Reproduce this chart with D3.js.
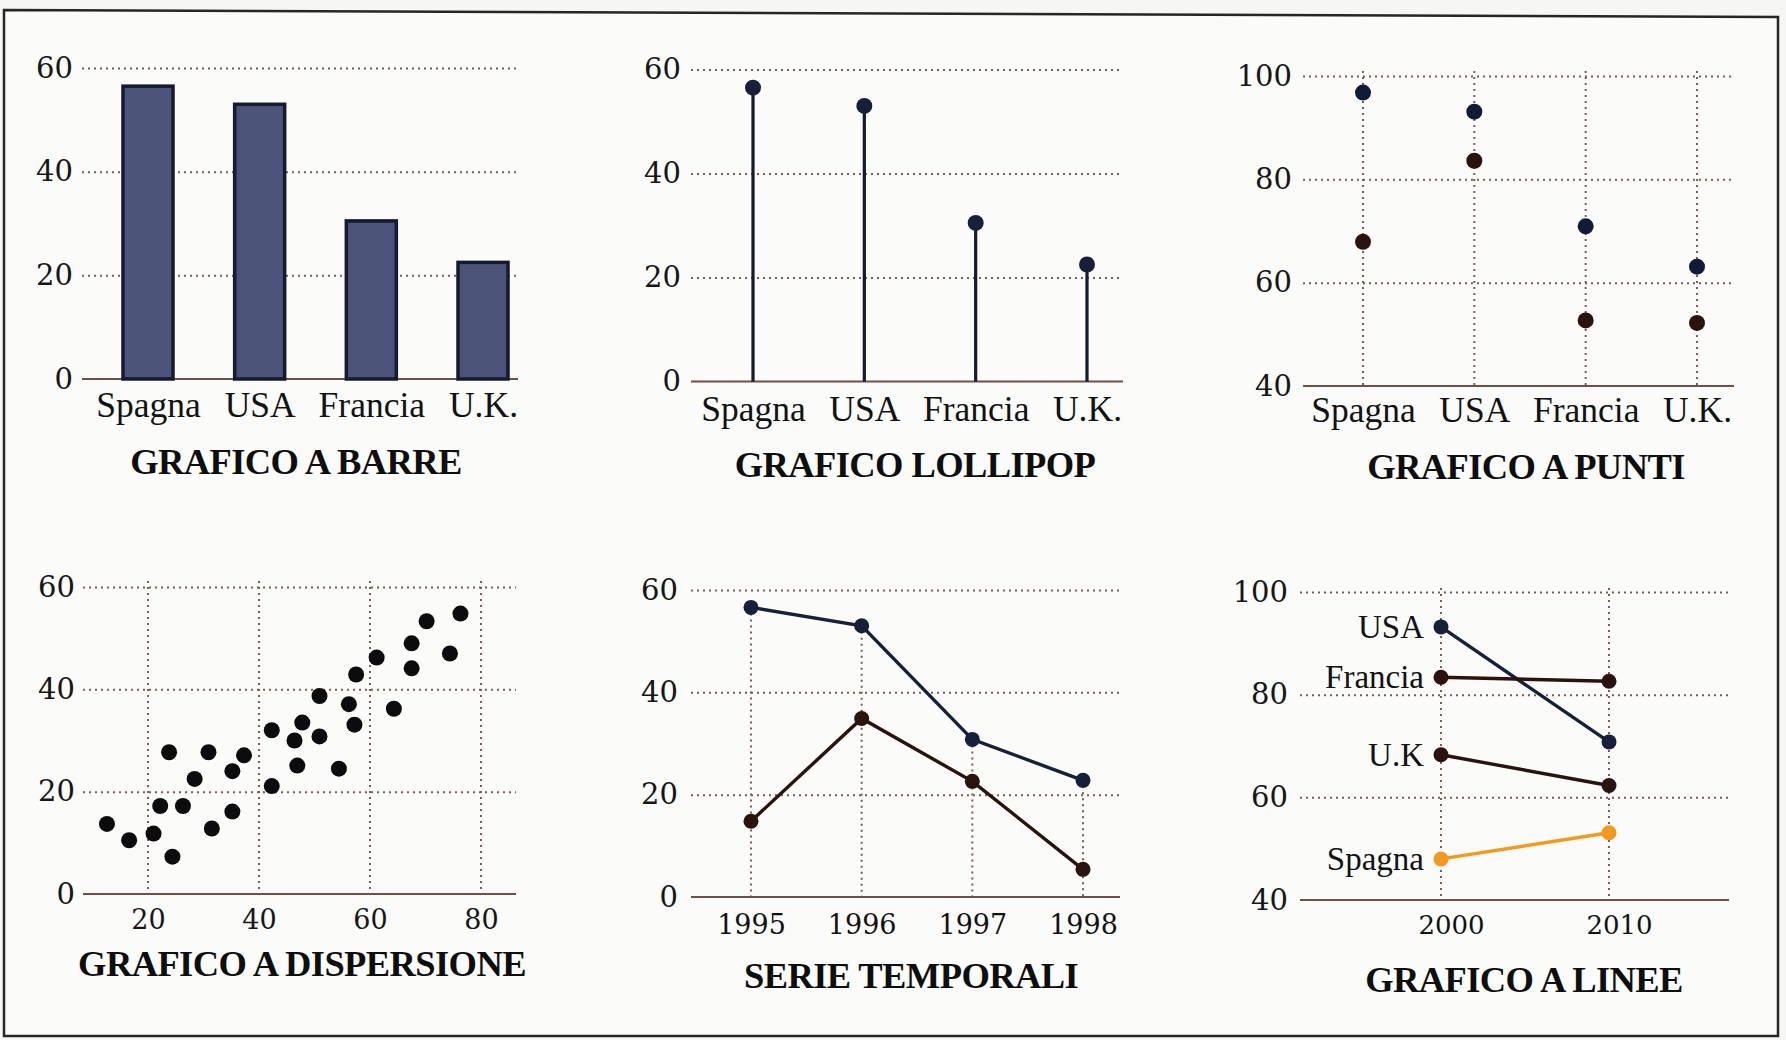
<!DOCTYPE html>
<html>
<head>
<meta charset="utf-8">
<script src="https://cdn.jsdelivr.net/npm/d3@7"></script>
<style>
  body { margin: 0; background: #f6f6f4; }
  svg { display: block; }
</style>
</head>
<body>
<div id="chart"></div>
<script>
// Data
const countries = ["Spagna", "USA", "Francia", "U.K."];
const barValues = [56.5, 53, 30.5, 22.5];
const dotSeriesA = [96.8, 93.1, 70.9, 63.1];
const dotSeriesB = [67.9, 83.6, 52.7, 52.2];

const scatterX = [12.6, 16.6, 21.0, 22.2, 23.8, 24.4, 26.3, 28.4, 30.9, 31.5, 35.2, 35.2, 37.3, 42.3, 42.3, 46.4,
  46.9, 47.8, 50.9, 50.9, 54.4, 56.2, 57.2, 57.5, 61.2, 64.3, 67.5, 67.5, 70.2, 74.4, 76.3];
const scatterY = [13.7, 10.5, 11.8, 17.2, 27.7, 7.3, 17.2, 22.5, 27.7, 12.8, 24.0, 16.1, 27.1, 32.0, 21.1, 30.0,
  25.1, 33.5, 38.7, 30.8, 24.5, 37.1, 33.1, 42.9, 46.2, 36.2, 49.0, 44.1, 53.3, 47.0, 54.8];

const years = [1995, 1996, 1997, 1998];
const tsSeriesA = [56.6, 53.0, 30.8, 22.8];
const tsSeriesB = [14.8, 34.9, 22.6, 5.4];

const lineYears = [2000, 2010];
const lineNames = ["USA", "Francia", "U.K", "Spagna"];
const lineUSA = [93.2, 70.8];
const lineFrancia = [83.4, 82.6];
const lineUK = [68.3, 62.3];
const lineSpagna = [48.0, 53.1];

const ticks60 = [0, 20, 40, 60];
const ticks100 = [40, 60, 80, 100];
const scatterTicks = [20, 40, 60, 80];

const titles = ["GRAFICO A BARRE", "GRAFICO LOLLIPOP", "GRAFICO A PUNTI",
  "GRAFICO A DISPERSIONE", "SERIE TEMPORALI", "GRAFICO A LINEE"];

// colours
const navy = "#16203a";
const brown = "#2a120e";
const orange = "#f29a20";
const gridColor = "#7a5e54";

const serif = "'Liberation Serif', 'Times New Roman', serif";
const numFont = "'DejaVu Serif', serif";

const W = 1786, H = 1040;
const svg = d3.select("#chart").append("svg")
    .attr("width", W)
    .attr("height", H);

svg.append("rect").attr("width", W).attr("height", H).attr("fill", "#f6f6f4");

// page frame
svg.append("path")
    .attr("d", "M4,10 L1778,17 L1778,1036 L4,1036 Z")
    .attr("fill", "#fbfbfa")
    .attr("stroke", "#262626")
    .attr("stroke-width", 2.5);

// horizontal grid + y labels + solid baseline, returns the y scale
function yPanel(cfg) {
    const y = d3.scaleLinear().domain(cfg.domain).range(cfg.range);
    const g = svg.append("g")
        .attr("transform", `translate(${cfg.x0},0)`)
        .call(d3.axisLeft(y)
            .tickValues(cfg.ticks)
            .tickSize(-(cfg.x1 - cfg.x0))
            .tickPadding(cfg.x0 - cfg.labelRight)
            .tickFormat(d3.format("d")));
    g.select(".domain").remove();
    g.selectAll(".tick line")
        .attr("stroke", gridColor)
        .attr("stroke-width", 2)
        .attr("stroke-dasharray", "2,4");
    g.selectAll(".tick").filter(d => d === cfg.domain[0]).select("line").remove();
    g.selectAll(".tick text")
        .style("font-family", numFont)
        .style("font-size", "29px")
        .attr("fill", "#161616");
    svg.append("line")
        .attr("x1", cfg.x0).attr("x2", cfg.x1)
        .attr("y1", y(cfg.domain[0])).attr("y2", y(cfg.domain[0]))
        .attr("stroke", "#6e5048")
        .attr("stroke-width", 2.2);
    return y;
}

function vGrid(xs, yTop, yBottom) {
    svg.append("g").selectAll("line")
        .data(xs)
        .join("line")
        .attr("x1", d => d).attr("x2", d => d)
        .attr("y1", (d, i) => typeof yTop === "function" ? yTop(i) : yTop)
        .attr("y2", yBottom)
        .attr("stroke", gridColor)
        .attr("stroke-width", 2)
        .attr("stroke-dasharray", "2,4");
}

function categoryAxis(x, yPos, pad, font, size) {
    const g = svg.append("g")
        .attr("transform", `translate(0,${yPos})`)
        .call(d3.axisBottom(x).tickSize(0).tickPadding(pad));
    g.select(".domain").remove();
    g.selectAll(".tick text")
        .style("font-family", font)
        .style("font-size", size + "px")
        .attr("fill", "#121212");
    return g;
}

function title(text, cx, by) {
    svg.append("text")
        .attr("x", cx).attr("y", by)
        .attr("text-anchor", "middle")
        .style("font-family", serif)
        .style("font-weight", 700)
        .style("font-size", "36.5px")
        .style("letter-spacing", "-0.6px")
        .attr("fill", "#0e0e0e")
        .text(text);
}

// ---------- 1. GRAFICO A BARRE ----------
{
    const y = yPanel({ domain: [0, 60], range: [379, 68], x0: 82, x1: 518, labelRight: 73, ticks: ticks60 });
    const x = d3.scalePoint().domain(countries).range([148, 483]);
    const bw = 50;
    svg.append("g").selectAll("rect")
        .data(barValues)
        .join("rect")
        .attr("x", (d, i) => x(countries[i]) - bw / 2)
        .attr("width", bw)
        .attr("y", d => y(d))
        .attr("height", d => y(0) - y(d))
        .attr("fill", "#4b5478")
        .attr("stroke", "#141a30")
        .attr("stroke-width", 3.5);
    categoryAxis(x, y(0), 13, serif, 35.5);
    title(titles[0], 296, 474);
}

// ---------- 2. GRAFICO LOLLIPOP ----------
{
    const y = yPanel({ domain: [0, 60], range: [381.5, 69.5], x0: 691, x1: 1123, labelRight: 681, ticks: ticks60 });
    const x = d3.scalePoint().domain(countries).range([753, 1087]);
    const g = svg.append("g");
    g.selectAll("line")
        .data(barValues)
        .join("line")
        .attr("x1", (d, i) => x(countries[i])).attr("x2", (d, i) => x(countries[i]))
        .attr("y1", y(0)).attr("y2", d => y(d))
        .attr("stroke", "#141a30")
        .attr("stroke-width", 3.2);
    g.selectAll("circle")
        .data(barValues)
        .join("circle")
        .attr("cx", (d, i) => x(countries[i]))
        .attr("cy", d => y(d))
        .attr("r", 8)
        .attr("fill", navy);
    categoryAxis(x, y(0), 14, serif, 35.5);
    title(titles[1], 915, 477);
}

// ---------- 3. GRAFICO A PUNTI ----------
{
    const x = d3.scalePoint().domain(countries).range([1363, 1697]);
    vGrid(countries.map(c => x(c)), 71, 386);
    const y = yPanel({ domain: [40, 100], range: [386, 76], x0: 1303, x1: 1734, labelRight: 1292, ticks: ticks100 });
    const g = svg.append("g");
    g.selectAll(".a")
        .data(dotSeriesA)
        .join("circle")
        .attr("class", "a")
        .attr("cx", (d, i) => x(countries[i]))
        .attr("cy", d => y(d))
        .attr("r", 8)
        .attr("fill", "#121a3a");
    g.selectAll(".b")
        .data(dotSeriesB)
        .join("circle")
        .attr("class", "b")
        .attr("cx", (d, i) => x(countries[i]))
        .attr("cy", d => y(d))
        .attr("r", 8)
        .attr("fill", brown);
    categoryAxis(x, y(40), 11, serif, 35.5);
    title(titles[2], 1526, 479);
}

// ---------- 4. GRAFICO A DISPERSIONE ----------
{
    const x = d3.scaleLinear().domain([20, 80]).range([148, 481]);
    vGrid(scatterTicks.map(t => x(t)), 581, 894);
    const y = yPanel({ domain: [0, 60], range: [894, 587], x0: 83, x1: 516, labelRight: 75, ticks: ticks60 });
    svg.append("g").selectAll("circle")
        .data(scatterX)
        .join("circle")
        .attr("cx", d => x(d))
        .attr("cy", (d, i) => y(scatterY[i]))
        .attr("r", 8)
        .attr("fill", "#0c0c0e");
    const ax = svg.append("g")
        .attr("transform", `translate(0,${y(0)})`)
        .call(d3.axisBottom(x).tickValues(scatterTicks).tickSize(0).tickPadding(16).tickFormat(d3.format("d")));
    ax.select(".domain").remove();
    ax.selectAll(".tick text")
        .style("font-family", numFont)
        .style("font-size", "27px")
        .attr("fill", "#161616");
    title(titles[3], 302, 976);
}

// ---------- 5. SERIE TEMPORALI ----------
{
    const x = d3.scalePoint().domain(years).range([751, 1083]);
    const yTmp = d3.scaleLinear().domain([0, 60]).range([897, 590]);
    vGrid(years.map(d => x(d)), i => yTmp(Math.max(tsSeriesA[i], tsSeriesB[i])), 897);
    const y = yPanel({ domain: [0, 60], range: [897, 590], x0: 691, x1: 1120, labelRight: 678, ticks: ticks60 });
    const line = d3.line().x((d, i) => x(years[i])).y(d => y(d));
    [[tsSeriesA, navy], [tsSeriesB, brown]].forEach(([vals, col]) => {
        svg.append("path")
            .attr("d", line(vals))
            .attr("fill", "none")
            .attr("stroke", col)
            .attr("stroke-width", 3.4);
        svg.append("g").selectAll("circle")
            .data(vals)
            .join("circle")
            .attr("cx", (d, i) => x(years[i]))
            .attr("cy", d => y(d))
            .attr("r", 7.5)
            .attr("fill", col);
    });
    categoryAxis(x, y(0), 18, numFont, 27);
    title(titles[4], 911, 988);
}

// ---------- 6. GRAFICO A LINEE ----------
{
    const x = d3.scalePoint().domain(lineYears).range([1441, 1609]);
    vGrid(lineYears.map(d => x(d)), 588, 900);
    const y = yPanel({ domain: [40, 100], range: [900, 592], x0: 1300, x1: 1729, labelRight: 1288, ticks: ticks100 });
    const series = [lineUSA, lineFrancia, lineUK, lineSpagna];
    const colors = [navy, brown, brown, orange];
    const line = d3.line().x((d, i) => x(lineYears[i])).y(d => y(d));
    series.forEach((vals, k) => {
        svg.append("path")
            .attr("d", line(vals))
            .attr("fill", "none")
            .attr("stroke", colors[k])
            .attr("stroke-width", 3.4);
        svg.append("g").selectAll("circle")
            .data(vals)
            .join("circle")
            .attr("cx", (d, i) => x(lineYears[i]))
            .attr("cy", d => y(d))
            .attr("r", 7.5)
            .attr("fill", colors[k]);
        svg.append("text")
            .attr("x", x(lineYears[0]) - 17)
            .attr("y", y(vals[0]))
            .attr("dy", "0.33em")
            .attr("text-anchor", "end")
            .style("font-family", serif)
            .style("font-size", "33px")
            .attr("fill", "#121212")
            .text(lineNames[k]);
    });
    const ax = categoryAxis(x, y(40), 16, numFont, 26);
    ax.selectAll(".tick text").attr("dx", 10);
    title(titles[5], 1524, 992);
}
</script>
</body>
</html>
